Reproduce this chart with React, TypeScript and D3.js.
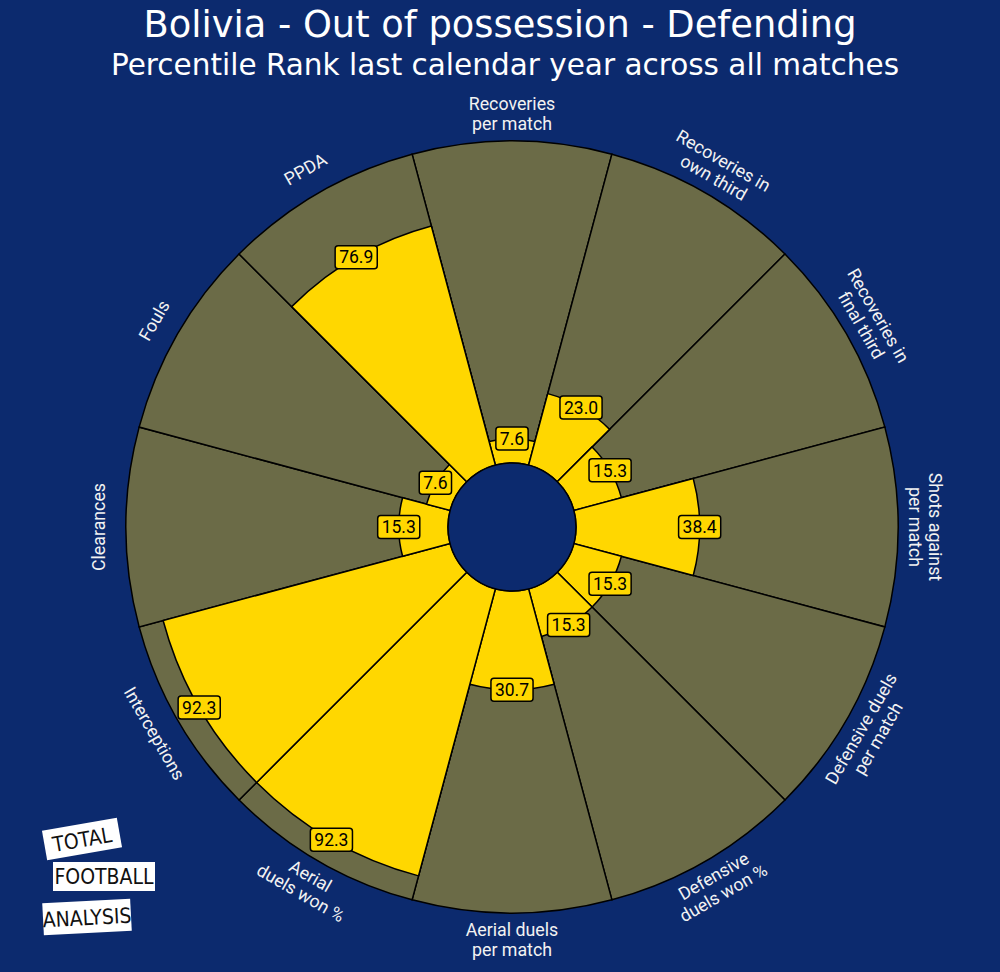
import React from "react";
import * as d3 from "d3";

const categories: string[][] = [
  ["Recoveries", "per match"],
  ["Recoveries in", "own third"],
  ["Recoveries in", "final third"],
  ["Shots against", "per match"],
  ["Defensive duels", "per match"],
  ["Defensive", "duels won %"],
  ["Aerial duels", "per match"],
  ["Aerial", "duels won %"],
  ["Interceptions"],
  ["Clearances"],
  ["Fouls"],
  ["PPDA"],
];
const values: number[] = [7.6, 23.0, 15.3, 38.4, 15.3, 15.3, 30.7, 92.3, 92.3, 15.3, 7.6, 76.9];
const title = "Bolivia - Out of possession - Defending";
const subtitle = "Percentile Rank last calendar year across all matches";
const logoWords = ["TOTAL", "FOOTBALL", "ANALYSIS"];

const W = 1000;
const H = 972;
const BG = "#0c2a6e";
const OLIVE = "#6b6b47";
const GOLD = "#ffd700";
const cx = 512;
const cy = 527;
const innerR = 64;
const outerR = 386;
const labelR = 413;

function textW(s: string, fs: number) {
  let w = 0;
  for (const ch of s) w += ch === "." ? 0.263 : 0.562;
  return w * fs;
}

export default function App() {
  const r = d3.scaleLinear().domain([0, 100]).range([innerR, outerR]);
  const n = values.length;
  const step = 360 / n;
  const rad = (deg: number) => (deg * Math.PI) / 180;
  const arc = d3.arc<any>();
  const valFs = 17.5;
  const labFs = 17.8;

  return (
    <svg width={W} height={H} style={{ position: "absolute", left: 0, top: 0 }}>
      <rect x={0} y={0} width={W} height={H} fill={BG} />
      <text x={500} y={37} textAnchor="middle" fill="#ffffff" fontFamily="DejaVu Sans" fontSize={36.8}>
        {title}
      </text>
      <text x={505} y={75} textAnchor="middle" fill="#ffffff" fontFamily="DejaVu Sans" fontSize={29.5}>
        {subtitle}
      </text>
      <g transform={`translate(${cx},${cy})`}>
        {values.map((v, i) => {
          const a0 = rad(i * step - step / 2);
          const a1 = rad(i * step + step / 2);
          return (
            <path
              key={"bg" + i}
              d={arc({ innerRadius: innerR, outerRadius: outerR, startAngle: a0, endAngle: a1 }) as string}
              fill={OLIVE}
              stroke="#000"
              strokeWidth={1.5}
            />
          );
        })}
        {values.map((v, i) => {
          const a0 = rad(i * step - step / 2);
          const a1 = rad(i * step + step / 2);
          return (
            <path
              key={"bar" + i}
              d={arc({ innerRadius: innerR, outerRadius: r(v), startAngle: a0, endAngle: a1 }) as string}
              fill={GOLD}
              stroke="#000"
              strokeWidth={1.5}
            />
          );
        })}
        <circle cx={0} cy={0} r={innerR} fill={BG} stroke="#000" strokeWidth={1.5} />
        {values.map((v, i) => {
          const th = rad(i * step);
          const rr = r(v);
          const x = rr * Math.sin(th);
          const y = -rr * Math.cos(th);
          const s = v.toFixed(1);
          const bw = textW(s, valFs) + 8;
          const bh = 23;
          return (
            <g key={"val" + i} transform={`translate(${x},${y})`}>
              <rect x={-bw / 2} y={-bh / 2} width={bw} height={bh} rx={3} fill={GOLD} stroke="#000" strokeWidth={1.5} />
              <text x={0} y={6.2} textAnchor="middle" fontFamily="Roboto" fontSize={valFs} fill="#000">
                {s}
              </text>
            </g>
          );
        })}
        {categories.map((lines, i) => {
          const deg = i * step;
          const th = rad(deg);
          const x = labelR * Math.sin(th);
          const y = -labelR * Math.cos(th);
          const rot = deg > 90 && deg < 270 ? deg - 180 : deg > 180 ? deg - 360 : deg;
          const lh = 19.5;
          const off = -((lines.length - 1) * lh) / 2;
          return (
            <g key={"lab" + i} transform={`translate(${x},${y}) rotate(${rot})`}>
              {lines.map((ln, j) => (
                <text
                  key={j}
                  x={0}
                  y={off + j * lh + 6}
                  textAnchor="middle"
                  fontFamily="Roboto"
                  fontSize={labFs}
                  fill="#f2f2f2"
                >
                  {ln}
                </text>
              ))}
            </g>
          );
        })}
      </g>
      <g>
        <g transform="translate(82,839) rotate(-10)">
          <rect x={-38} y={-15} width={76} height={30} fill="#ffffff" />
          <text x={0} y={8} textAnchor="middle" fontFamily="DejaVu Sans Condensed, DejaVu Sans" fontWeight={200} fontSize={21} fill="#111">
            {logoWords[0]}
          </text>
        </g>
        <g transform="translate(104,876) rotate(0)">
          <rect x={-51} y={-14} width={102} height={29} fill="#ffffff" />
          <text x={0} y={8} textAnchor="middle" fontFamily="DejaVu Sans Condensed, DejaVu Sans" fontWeight={200} fontSize={21} fill="#111">
            {logoWords[1]}
          </text>
        </g>
        <g transform="translate(87,917) rotate(-3)">
          <rect x={-44} y={-16} width={88} height={32} fill="#ffffff" />
          <text x={0} y={8} textAnchor="middle" fontFamily="DejaVu Sans Condensed, DejaVu Sans" fontWeight={200} fontSize={21} fill="#111">
            {logoWords[2]}
          </text>
        </g>
      </g>
    </svg>
  );
}
